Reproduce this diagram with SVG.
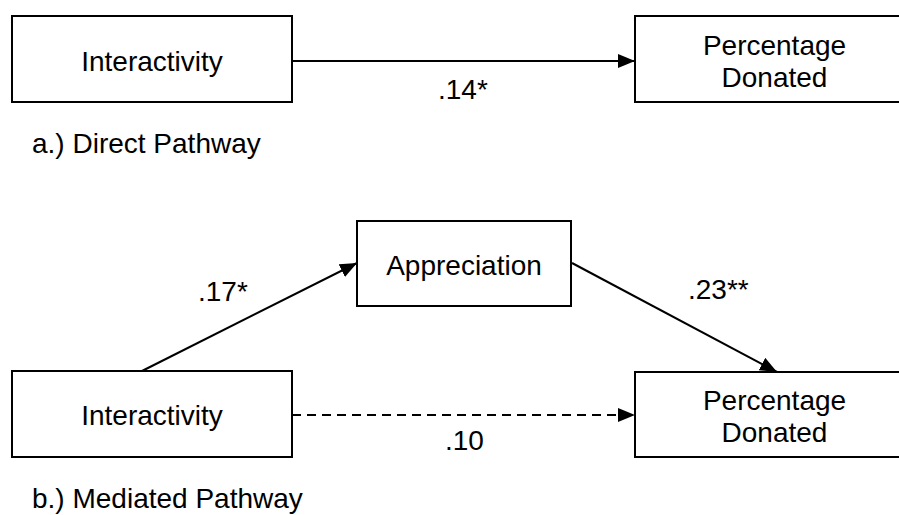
<svg xmlns="http://www.w3.org/2000/svg" width="899" height="515" viewBox="0 0 899 515">
<style>
  .box { fill: #ffffff; stroke: #000000; stroke-width: 2; }
  .lbl { font-family: "Liberation Sans", Arial, sans-serif; font-size: 28px; fill: #000000; }
  .mid { text-anchor: middle; }
  .edge { stroke: #000000; stroke-width: 2; fill: none; }
  .dash { stroke-dasharray: 9 6; }
</style>
<defs>
  <marker id="arrow" markerUnits="userSpaceOnUse" markerWidth="18" markerHeight="16" refX="17" refY="7" orient="auto">
    <path d="M0,0 L17,7 L0,14 Z" fill="#000000" stroke="none"/>
  </marker>
</defs>
<g id="connectors">
  <line class="edge" x1="292" y1="61" x2="635" y2="61" marker-end="url(#arrow)"/>
  <line class="edge" x1="142" y1="371" x2="357" y2="263" marker-end="url(#arrow)"/>
  <line class="edge" x1="572" y1="263" x2="777" y2="372" marker-end="url(#arrow)"/>
  <line class="edge dash" x1="292" y1="415" x2="635" y2="415" marker-end="url(#arrow)"/>
</g>
<g id="node-interactivity-a">
  <rect class="box" x="12" y="16" width="280" height="86"/>
  <text class="lbl mid" x="152" y="71">Interactivity</text>
</g>
<g id="node-percentage-a">
  <rect class="box" x="635" y="16" width="279" height="86"/>
  <text class="lbl mid" x="774.5" y="55">Percentage</text>
  <text class="lbl mid" x="774.5" y="87">Donated</text>
</g>
<g id="node-appreciation">
  <rect class="box" x="357" y="221" width="214" height="85"/>
  <text class="lbl mid" x="464" y="275">Appreciation</text>
</g>
<g id="node-interactivity-b">
  <rect class="box" x="12" y="371" width="280" height="86"/>
  <text class="lbl mid" x="152" y="425">Interactivity</text>
</g>
<g id="node-percentage-b">
  <rect class="box" x="635" y="372" width="279" height="85"/>
  <text class="lbl mid" x="774.5" y="410">Percentage</text>
  <text class="lbl mid" x="774.5" y="442">Donated</text>
</g>
<g id="labels">
  <text class="lbl" x="438" y="99">.14*</text>
  <text class="lbl" x="32" y="153">a.) Direct Pathway</text>
  <text class="lbl" x="198" y="301">.17*</text>
  <text class="lbl" x="688" y="299">.23**</text>
  <text class="lbl" x="445" y="450">.10</text>
  <text class="lbl" x="32" y="508">b.) Mediated Pathway</text>
</g>
</svg>
